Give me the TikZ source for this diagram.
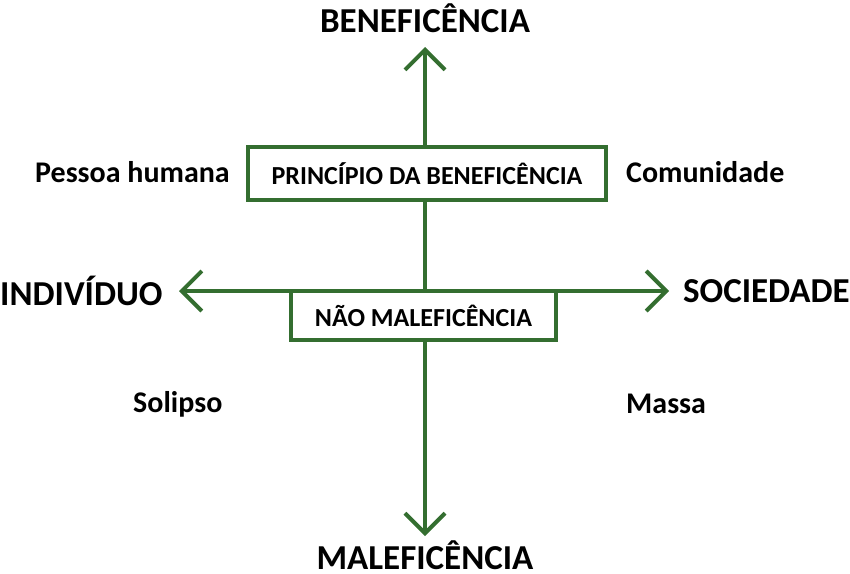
\documentclass[tikz,border=0pt]{standalone}
\usepackage{fontspec}
\setmainfont{Carlito}
\usetikzlibrary{arrows.meta}
\definecolor{axgreen}{RGB}{52,110,48}
\begin{document}
\begin{tikzpicture}[x=1pt,y=-1pt,
  axis/.style={draw=axgreen,line width=4pt,-{Straight Barb[length=20pt,width=40pt,line width=4pt]}},
  boxnode/.style={draw=axgreen,line width=4pt,fill=white,font=\bfseries\fontsize{26}{30}\selectfont,inner sep=0pt,anchor=center},
  big/.style={font=\bfseries\fontsize{35}{40}\selectfont},
  mid/.style={font=\bfseries\fontsize{30}{34}\selectfont}]
\useasboundingbox (0,0) rectangle (850,573);
\coordinate (c) at (425,291);
\coordinate (top) at (425,47);
\coordinate (bot) at (425,536);
\coordinate (lft) at (179,291);
\coordinate (rgt) at (669,291);
\draw[axis] (c) -- (top);
\draw[axis] (c) -- (bot);
\draw[axis] (c) -- (lft);
\draw[axis] (c) -- (rgt);
\node[boxnode,minimum width=358pt,minimum height=53pt] (pb) at (427,173.5) {PRINCÍPIO DA BENEFICÊNCIA};
\node[boxnode,minimum width=265pt,minimum height=49pt] (nm) at (423.5,315.5) {NÃO MALEFICÊNCIA};
\node[big] (ben) at (425,18) {BENEFICÊNCIA};
\node[big,anchor=base,inner sep=0pt] (mal) at (425,569) {MALEFICÊNCIA};
\node[big,anchor=west,inner xsep=0pt] (ind) at (0,291) {INDIVÍDUO};
\node[big,anchor=east,inner xsep=0pt] (soc) at (850,291) {SOCIEDADE};
\node[mid,anchor=west,inner xsep=0pt] (pes) at (35,172) {Pessoa humana};
\node[mid,anchor=west,inner xsep=0pt] (com) at (626,172) {Comunidade};
\node[mid,anchor=west,inner xsep=0pt] (sol) at (133,404) {Solipso};
\node[mid,anchor=west,inner xsep=0pt] (mas) at (626,404) {Massa};
\end{tikzpicture}
\end{document}
